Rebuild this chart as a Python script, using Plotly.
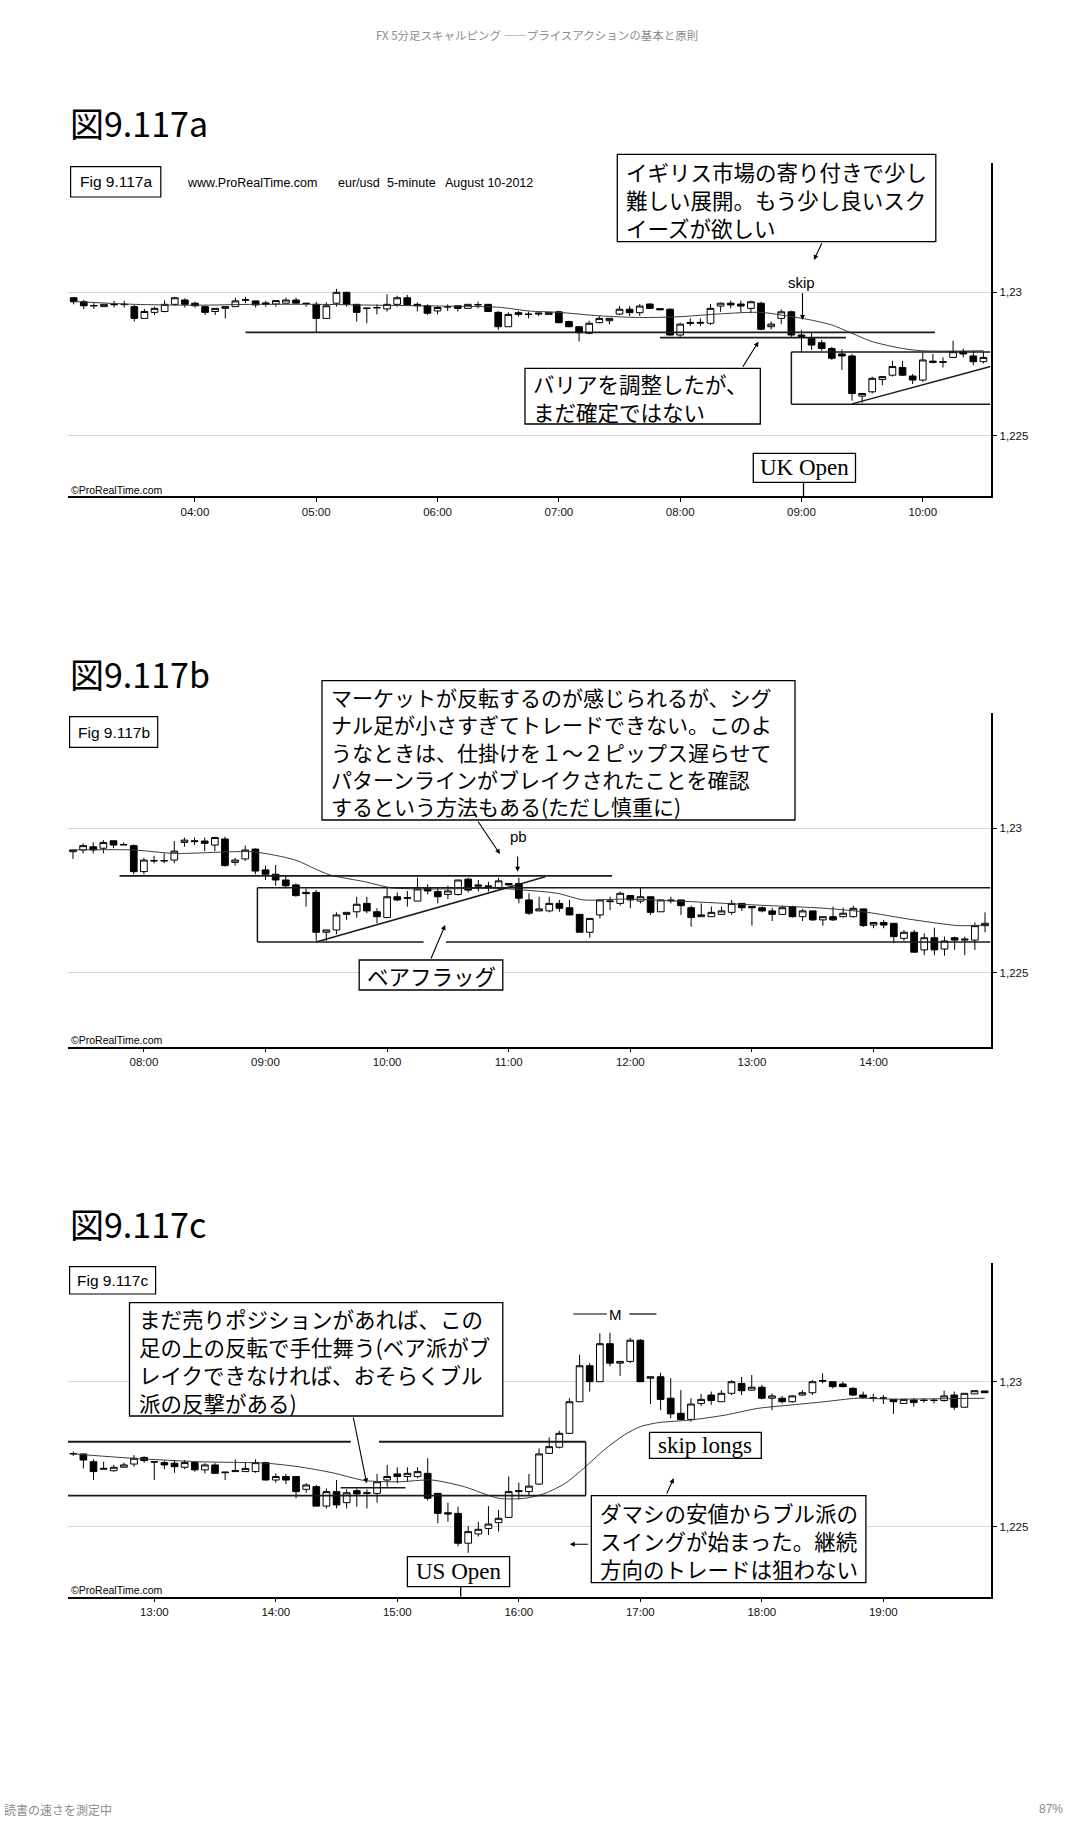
import plotly.graph_objects as go

# ---------------- data (EUR/USD 5-minute, August 10-2012) ----------------
# Panel a : 03:00 - 10:30
a_start = "03:00"
a_open = [1.22981,1.22967,1.22954,1.22950,1.22958,1.22957,1.22950,1.22909,1.22930,1.22933,
          1.22958,1.22973,1.22962,1.22950,1.22933,1.22944,1.22950,1.22974,1.22970,1.22963,
          1.22959,1.22962,1.22973,1.22962,1.22958,1.22909,1.22962,1.23000,1.22958,1.22945,
          1.22947,1.22942,1.22958,1.22981,1.22958,1.22953,1.22935,1.22950,1.22953,1.22944,
          1.22956,1.22958,1.22930,1.22880,1.22929,1.22924,1.22928,1.22923,1.22932,1.22898,
          1.22880,1.22857,1.22894,1.22901,1.22924,1.22941,1.22929,1.22959,1.22943,1.22941,
          1.22851,1.22895,1.22892,1.22892,1.22952,1.22962,1.22959,1.22944,1.22962,1.22880,
          1.22909,1.22932,1.22851,1.22839,1.22824,1.22804,1.22785,1.22778,1.22638,1.22653,
          1.22696,1.22711,1.22738,1.22708,1.22694,1.22760,1.22758,1.22773,1.22793,1.22778,
          1.22758]
a_high = [1.22984,1.22974,1.22962,1.22958,1.22970,1.22970,1.22956,1.22942,1.22950,1.22972,
          1.22984,1.22979,1.22967,1.22953,1.22944,1.22950,1.22981,1.22984,1.22970,1.22970,
          1.22971,1.22981,1.22981,1.22962,1.22967,1.22965,1.23012,1.23002,1.22958,1.22945,
          1.22958,1.22993,1.22988,1.22991,1.22965,1.22958,1.22953,1.22958,1.22953,1.22958,
          1.22967,1.22958,1.22935,1.22930,1.22935,1.22933,1.22929,1.22931,1.22936,1.22901,
          1.22882,1.22901,1.22917,1.22909,1.22952,1.22952,1.22959,1.22962,1.22944,1.22944,
          1.22894,1.22909,1.22909,1.22959,1.22964,1.22971,1.22971,1.22971,1.22967,1.22898,
          1.22941,1.22936,1.22868,1.22857,1.22834,1.22810,1.22801,1.22785,1.22647,1.22706,
          1.22708,1.22761,1.22761,1.22715,1.22789,1.22785,1.22773,1.22831,1.22804,1.22796,
          1.22793]
a_low = [1.22958,1.22942,1.22942,1.22950,1.22947,1.22947,1.22898,1.22909,1.22921,1.22930,
         1.22953,1.22947,1.22947,1.22921,1.22921,1.22909,1.22950,1.22962,1.22947,1.22950,
         1.22950,1.22962,1.22962,1.22950,1.22860,1.22909,1.22950,1.22950,1.22898,1.22892,
         1.22923,1.22933,1.22950,1.22953,1.22933,1.22921,1.22923,1.22935,1.22933,1.22944,
         1.22944,1.22933,1.22869,1.22880,1.22915,1.22909,1.22917,1.22923,1.22892,1.22878,
         1.22828,1.22854,1.22892,1.22889,1.22921,1.22917,1.22917,1.22941,1.22939,1.22848,
         1.22845,1.22882,1.22882,1.22886,1.22932,1.22944,1.22929,1.22927,1.22868,1.22871,
         1.22889,1.22845,1.22793,1.22799,1.22796,1.22764,1.22729,1.22622,1.22615,1.22647,
         1.22676,1.22706,1.22708,1.22680,1.22688,1.22752,1.22738,1.22770,1.22773,1.22746,
         1.22752]
a_close = [1.22967,1.22953,1.22953,1.22958,1.22957,1.22958,1.22909,1.22933,1.22944,1.22958,
           1.22981,1.22958,1.22953,1.22930,1.22944,1.22950,1.22970,1.22973,1.22956,1.22958,
           1.22971,1.22973,1.22962,1.22961,1.22909,1.22953,1.23000,1.22958,1.22930,1.22944,
           1.22946,1.22958,1.22981,1.22956,1.22953,1.22927,1.22947,1.22949,1.22944,1.22958,
           1.22957,1.22933,1.22880,1.22923,1.22923,1.22923,1.22925,1.22930,1.22894,1.22880,
           1.22859,1.22892,1.22909,1.22909,1.22941,1.22929,1.22952,1.22944,1.22939,1.22851,
           1.22889,1.22892,1.22895,1.22944,1.22962,1.22956,1.22952,1.22967,1.22871,1.22889,
           1.22932,1.22851,1.22845,1.22816,1.22804,1.22770,1.22778,1.22647,1.22647,1.22700,
           1.22706,1.22741,1.22711,1.22694,1.22764,1.22756,1.22756,1.22793,1.22785,1.22758,
           1.22773]
a_ma_time = ["03:00","03:30","04:00","04:30","05:00","05:30","06:00","06:30","06:45","07:00",
             "07:20","07:40","08:00","08:20","08:40","08:55","09:05","09:15","09:25","09:35",
             "09:50","10:00","10:30"]
a_ma = [1.22968,1.22958,1.22955,1.22958,1.22958,1.22955,1.22952,1.22948,1.22935,1.22930,
        1.22918,1.22912,1.22915,1.22925,1.22930,1.22915,1.22903,1.22886,1.22857,1.22828,
        1.22804,1.22796,1.22796]

# Panel b : 07:25 - 14:55
b_start = "07:25"
b_open = [1.22919,1.22925,1.22936,1.22931,1.22957,1.22942,1.22940,1.22850,1.22887,1.22887,
          1.22890,1.22951,1.22957,1.22956,1.22942,1.22963,1.22882,1.22894,1.22928,1.22856,
          1.22841,1.22821,1.22804,1.22778,1.22778,1.22640,1.22648,1.22702,1.22711,1.22740,
          1.22711,1.22691,1.22763,1.22760,1.22748,1.22794,1.22781,1.22771,1.22771,1.22824,
          1.22804,1.22798,1.22794,1.22809,1.22809,1.22752,1.22714,1.22714,1.22740,1.22725,
          1.22702,1.22640,1.22700,1.22746,1.22740,1.22767,1.22748,1.22763,1.22711,1.22752,
          1.22752,1.22725,1.22694,1.22694,1.22702,1.22709,1.22740,1.22729,1.22725,1.22714,
          1.22702,1.22729,1.22694,1.22714,1.22683,1.22694,1.22694,1.22694,1.22721,1.22665,
          1.22674,1.22671,1.22619,1.22640,1.22579,1.22621,1.22582,1.22621,1.22613,1.22613,
          1.22663]
b_high = [1.22925,1.22948,1.22951,1.22959,1.22957,1.22951,1.22944,1.22898,1.22905,1.22913,
          1.22956,1.22968,1.22968,1.22968,1.22971,1.22971,1.22898,1.22940,1.22931,1.22871,
          1.22873,1.22836,1.22809,1.22792,1.22786,1.22648,1.22709,1.22709,1.22763,1.22763,
          1.22723,1.22794,1.22778,1.22783,1.22829,1.22806,1.22794,1.22801,1.22821,1.22829,
          1.22821,1.22815,1.22829,1.22809,1.22829,1.22775,1.22763,1.22763,1.22752,1.22752,
          1.22702,1.22688,1.22752,1.22763,1.22781,1.22769,1.22794,1.22763,1.22752,1.22763,
          1.22752,1.22732,1.22740,1.22729,1.22729,1.22752,1.22740,1.22729,1.22729,1.22725,
          1.22732,1.22732,1.22721,1.22714,1.22694,1.22729,1.22725,1.22732,1.22721,1.22674,
          1.22683,1.22671,1.22648,1.22648,1.22636,1.22656,1.22625,1.22625,1.22625,1.22674,
          1.22709]
b_low = [1.22894,1.22913,1.22913,1.22913,1.22931,1.22942,1.22841,1.22841,1.22879,1.22879,
         1.22879,1.22936,1.22942,1.22921,1.22921,1.22867,1.22871,1.22887,1.22841,1.22821,
         1.22801,1.22792,1.22763,1.22729,1.22610,1.22610,1.22633,1.22683,1.22691,1.22706,
         1.22671,1.22688,1.22748,1.22729,1.22748,1.22771,1.22740,1.22755,1.22767,1.22778,
         1.22781,1.22781,1.22790,1.22801,1.22740,1.22700,1.22714,1.22709,1.22711,1.22700,
         1.22640,1.22621,1.22688,1.22717,1.22732,1.22723,1.22740,1.22700,1.22711,1.22740,
         1.22700,1.22659,1.22694,1.22694,1.22700,1.22700,1.22714,1.22663,1.22709,1.22679,
         1.22700,1.22691,1.22679,1.22679,1.22663,1.22679,1.22691,1.22691,1.22659,1.22654,
         1.22654,1.22602,1.22610,1.22571,1.22561,1.22561,1.22559,1.22579,1.22561,1.22579,
         1.22640]
b_close = [1.22925,1.22940,1.22925,1.22951,1.22942,1.22944,1.22850,1.22890,1.22888,1.22888,
           1.22921,1.22959,1.22954,1.22948,1.22968,1.22871,1.22890,1.22925,1.22852,1.22841,
           1.22821,1.22801,1.22767,1.22774,1.22640,1.22648,1.22700,1.22709,1.22737,1.22714,
           1.22694,1.22763,1.22752,1.22758,1.22790,1.22783,1.22763,1.22783,1.22821,1.22786,
           1.22800,1.22800,1.22818,1.22804,1.22758,1.22706,1.22721,1.22740,1.22723,1.22700,
           1.22640,1.22688,1.22752,1.22748,1.22775,1.22752,1.22763,1.22709,1.22752,1.22749,
           1.22732,1.22691,1.22700,1.22709,1.22714,1.22740,1.22725,1.22725,1.22714,1.22702,
           1.22725,1.22694,1.22714,1.22683,1.22694,1.22683,1.22706,1.22723,1.22663,1.22674,
           1.22665,1.22625,1.22640,1.22571,1.22621,1.22579,1.22610,1.22613,1.22616,1.22663,
           1.22671]
b_ma_time = ["07:25","07:55","08:15","08:53","09:08","09:16","09:24","09:32","09:49","10:02",
             "10:22","10:55","11:08","11:24","11:37","11:57","12:30","13:03","13:36","13:57",
             "14:17","14:42","14:55"]
b_ma = [1.22925,1.22925,1.22913,1.22919,1.22902,1.22887,1.22861,1.22838,1.22815,1.22794,
        1.22790,1.22792,1.22786,1.22775,1.22752,1.22755,1.22746,1.22734,1.22723,1.22709,
        1.22686,1.22663,1.22665]

# Panel c : 12:20 - 19:50
c_start = "12:20"
c_open = [1.22751,1.22751,1.22724,1.22698,1.22693,1.22705,1.22716,1.22739,1.22724,1.22721,
          1.22719,1.22705,1.22721,1.22696,1.22713,1.22686,1.22690,1.22690,1.22690,1.22721,
          1.22661,1.22673,1.22673,1.22629,1.22638,1.22571,1.22621,1.22583,1.22624,1.22615,
          1.22615,1.22661,1.22682,1.22673,1.22673,1.22684,1.22615,1.22548,1.22546,1.22443,
          1.22475,1.22494,1.22514,1.22532,1.22621,1.22621,1.22647,1.22753,1.22774,1.22822,
          1.22931,1.23055,1.23000,1.23131,1.23064,1.23070,1.23143,1.23012,1.23017,1.22943,
          1.22891,1.22870,1.22925,1.22954,1.22931,1.22960,1.22994,1.22971,1.22981,1.22943,
          1.22943,1.22931,1.22954,1.22962,1.23004,1.23000,1.22992,1.22977,1.22954,1.22943,
          1.22943,1.22939,1.22925,1.22937,1.22935,1.22935,1.22935,1.22954,1.22912,1.22958,
          1.22968]
c_high = [1.22759,1.22751,1.22732,1.22724,1.22713,1.22721,1.22747,1.22742,1.22724,1.22728,
          1.22730,1.22730,1.22724,1.22719,1.22719,1.22688,1.22732,1.22721,1.22732,1.22724,
          1.22684,1.22682,1.22673,1.22650,1.22644,1.22632,1.22661,1.22629,1.22632,1.22629,
          1.22682,1.22713,1.22705,1.22705,1.22705,1.22736,1.22615,1.22583,1.22569,1.22502,
          1.22517,1.22571,1.22558,1.22673,1.22652,1.22682,1.22770,1.22808,1.22831,1.22943,
          1.23093,1.23064,1.23167,1.23169,1.23070,1.23151,1.23147,1.23017,1.23031,1.23012,
          1.22971,1.22943,1.22958,1.22966,1.22971,1.23006,1.23017,1.23023,1.22989,1.22960,
          1.22951,1.22954,1.22971,1.23006,1.23029,1.23000,1.23000,1.22981,1.22966,1.22958,
          1.22954,1.22939,1.22939,1.22943,1.22943,1.22943,1.22969,1.22966,1.22960,1.22969,
          1.22968]
c_low = [1.22744,1.22701,1.22661,1.22698,1.22690,1.22705,1.22707,1.22721,1.22661,1.22698,
         1.22686,1.22698,1.22690,1.22684,1.22682,1.22661,1.22690,1.22690,1.22686,1.22659,
         1.22652,1.22647,1.22598,1.22617,1.22569,1.22563,1.22563,1.22563,1.22569,1.22563,
         1.22583,1.22638,1.22650,1.22655,1.22667,1.22590,1.22512,1.22517,1.22433,1.22410,
         1.22466,1.22471,1.22483,1.22532,1.22594,1.22609,1.22644,1.22751,1.22770,1.22820,
         1.22931,1.22966,1.23000,1.23053,1.23020,1.23064,1.23000,1.22923,1.22902,1.22874,
         1.22868,1.22862,1.22916,1.22920,1.22931,1.22954,1.22954,1.22969,1.22939,1.22902,
         1.22925,1.22928,1.22951,1.22954,1.22994,1.22977,1.22981,1.22951,1.22943,1.22931,
         1.22923,1.22889,1.22925,1.22914,1.22928,1.22925,1.22931,1.22902,1.22912,1.22958,
         1.22962]
c_close = [1.22752,1.22730,1.22690,1.22701,1.22705,1.22713,1.22736,1.22728,1.22723,1.22713,
           1.22707,1.22721,1.22696,1.22713,1.22684,1.22688,1.22693,1.22701,1.22721,1.22661,
           1.22673,1.22661,1.22621,1.22644,1.22571,1.22621,1.22575,1.22617,1.22613,1.22617,
           1.22655,1.22673,1.22673,1.22684,1.22690,1.22598,1.22546,1.22544,1.22443,1.22483,
           1.22491,1.22509,1.22529,1.22621,1.22624,1.22640,1.22751,1.22776,1.22822,1.22931,
           1.23055,1.23000,1.23131,1.23064,1.23070,1.23143,1.23000,1.23017,1.22939,1.22889,
           1.22870,1.22923,1.22939,1.22935,1.22960,1.23000,1.22969,1.22981,1.22943,1.22951,
           1.22931,1.22951,1.22962,1.23000,1.23002,1.22983,1.22983,1.22954,1.22946,1.22944,
           1.22944,1.22931,1.22939,1.22928,1.22936,1.22936,1.22951,1.22912,1.22960,1.22969,
           1.22962]
c_ma_time = ["12:20","12:49","13:22","13:55","14:11","14:28","14:44","15:01","15:17","15:33",
             "15:50","16:03","16:13","16:23","16:32","16:42","16:52","17:00","17:09","17:25",
             "17:42","17:58","18:15","18:31","18:47","19:04","19:50"]
c_ma = [1.22751,1.22736,1.22724,1.22719,1.22707,1.22686,1.22659,1.22655,1.22661,1.22638,
        1.22598,1.22598,1.22615,1.22650,1.22701,1.22764,1.22816,1.22845,1.22859,1.22868,
        1.22885,1.22908,1.22920,1.22931,1.22943,1.22940,1.22943]

# drawn price levels / lines (time, price)
a_levels = [("04:25", "10:06", 1.22860), ("07:50", "09:22", 1.22842)]
a_box = ("08:55", 1.22610, 1.22792)
a_trend = [("09:25", 1.22611), ("10:33", 1.22741)]
b_levels = [("07:48", "11:51", 1.22835)]
b_box = ("08:56", 1.22606, 1.22794)
b_gap = ("10:18", "10:29")
b_trend = [("09:25", 1.22606), ("11:18", 1.22832)]
c_upper = [("12:16", "14:37"), ("14:51", "16:33")]
c_upper_price = 1.22793
c_lower = ("12:16", "16:33", 1.22607)
c_short = ("14:32", "15:04", 1.22634)

y_ticks = [1.225, 1.23]
y_ticklabels = ["1,225", "1,23"]
a_hours = ["04:00", "05:00", "06:00", "07:00", "08:00", "09:00", "10:00"]
b_hours = ["08:00", "09:00", "10:00", "11:00", "12:00", "13:00", "14:00"]
c_hours = ["13:00", "14:00", "15:00", "16:00", "17:00", "18:00", "19:00"]

# ---------------- helpers ----------------
W, H = 1073, 1833


def tm(s):
    h, m = s.split(":")
    return int(h) * 60 + int(m)


def px(x):
    return x / W


def py(y):
    return 1 - y / H


SANS = "Liberation Sans, Arial, sans-serif"
SERIF = "Liberation Serif, Times New Roman, serif"
JP = "Noto Sans CJK JP, sans-serif"

fig = go.Figure()

panels = [
    dict(n="", start=a_start, o=a_open, h=a_high, l=a_low, c=a_close, mt=a_ma_time, mv=a_ma,
         hours=a_hours, xr=[177.2, 633.5], yr=[1.222897, 1.234498], top=163.3, bot=496.0),
    dict(n="2", start=b_start, o=b_open, h=b_high, l=b_low, c=b_close, mt=b_ma_time, mv=b_ma,
         hours=b_hours, xr=[442.55, 897.7], yr=[1.222438, 1.233982], top=713.3, bot=1046.7),
    dict(n="3", start=c_start, o=c_open, h=c_high, l=c_low, c=c_close, mt=c_ma_time, mv=c_ma,
         hours=c_hours, xr=[737.4, 1192.9], yr=[1.222586, 1.234083], top=1263.3, bot=1596.7),
]

X0, X1 = 68.0, 990.5
layout_axes = {}
for p in panels:
    xs = [tm(p["start"]) + 5 * i for i in range(len(p["o"]))]
    xa, ya = "x" + p["n"], "y" + p["n"]
    fig.add_trace(go.Scatter(x=[tm(t) for t in p["mt"]], y=p["mv"], mode="lines",
                             line=dict(color="#3a3a3a", width=1, shape="spline", smoothing=0.7),
                             xaxis=xa, yaxis=ya, hoverinfo="skip"))
    fig.add_trace(go.Candlestick(
        x=xs, open=p["o"], high=p["h"], low=p["l"], close=p["c"], xaxis=xa, yaxis=ya,
        increasing=dict(fillcolor="white", line=dict(color="black", width=1)),
        decreasing=dict(fillcolor="black", line=dict(color="black", width=1)),
        whiskerwidth=0))
    xkey = "xaxis" + p["n"]
    ykey = "yaxis" + p["n"]
    layout_axes[xkey] = dict(
        domain=[px(X0), px(X1)], range=p["xr"], anchor=ya, showline=True, linecolor="black",
        linewidth=1.5, ticks="outside", ticklen=4, tickcolor="black", showgrid=False,
        zeroline=False, tickvals=[tm(t) for t in p["hours"]], ticktext=p["hours"],
        tickfont=dict(family=SANS, size=11.5, color="#111"), rangeslider=dict(visible=False),
        fixedrange=True)
    layout_axes[ykey] = dict(
        domain=[py(p["bot"]), py(p["top"])], range=p["yr"], anchor=xa, side="right",
        showline=True, linecolor="black", linewidth=1.5, ticks="outside", ticklen=5,
        tickcolor="black", tickvals=y_ticks, ticktext=y_ticklabels, showgrid=True,
        gridcolor="#d9d9d9", gridwidth=1, zeroline=False,
        tickfont=dict(family=SANS, size=11.5, color="#111"), fixedrange=True)

shapes = []
annotations = []


def dline(xa, ya, x0, y0, x1, y1, w=1.8):
    shapes.append(dict(type="line", xref=xa, yref=ya, x0=x0, y0=y0, x1=x1, y1=y1,
                       line=dict(color="#1a1a1a", width=w), layer="above"))


# panel a lines
for t0, t1, pr in a_levels:
    dline("x", "y", tm(t0), pr, tm(t1), pr)
ax_right = panels[0]["xr"][1]
dline("x", "y", tm(a_box[0]), a_box[2], ax_right, a_box[2], 1.5)
dline("x", "y", tm(a_box[0]), a_box[1], ax_right, a_box[1], 1.5)
dline("x", "y", tm(a_box[0]), a_box[1], tm(a_box[0]), a_box[2], 1.5)
dline("x", "y", tm(a_trend[0][0]), a_trend[0][1], ax_right, a_trend[1][1], 1.5)

# panel b lines
for t0, t1, pr in b_levels:
    dline("x2", "y2", tm(t0), pr, tm(t1), pr)
bx_right = panels[1]["xr"][1]
dline("x2", "y2", tm(b_box[0]), b_box[2], bx_right, b_box[2], 1.5)
dline("x2", "y2", tm(b_box[0]), b_box[1], tm(b_gap[0]), b_box[1], 1.5)
dline("x2", "y2", tm(b_gap[1]), b_box[1], bx_right, b_box[1], 1.5)
dline("x2", "y2", tm(b_box[0]), b_box[1], tm(b_box[0]), b_box[2], 1.5)
dline("x2", "y2", tm(b_trend[0][0]), b_trend[0][1], tm(b_trend[1][0]), b_trend[1][1], 1.5)

# panel c lines
for t0, t1 in c_upper:
    dline("x3", "y3", max(tm(t0), panels[2]["xr"][0]), c_upper_price, tm(t1), c_upper_price)
dline("x3", "y3", max(tm(c_lower[0]), panels[2]["xr"][0]), c_lower[2], tm(c_lower[1]), c_lower[2])
dline("x3", "y3", tm(c_lower[1]), c_lower[2], tm(c_lower[1]), c_upper_price, 1.5)
dline("x3", "y3", tm(c_short[0]), c_short[2], tm(c_short[1]), c_short[2], 1.5)


def pline(x0, y0, x1, y1, w=1.3):
    shapes.append(dict(type="line", xref="paper", yref="paper", x0=px(x0), y0=py(y0),
                       x1=px(x1), y1=py(y1), line=dict(color="black", width=w), layer="above"))


def prect(x0, y0, x1, y1, w=1.3):
    shapes.append(dict(type="rect", xref="paper", yref="paper", x0=px(x0), y0=py(y0),
                       x1=px(x1), y1=py(y1), line=dict(color="black", width=w),
                       fillcolor="white", layer="above"))


def text(s, x, y, size, family, xanchor="left", color="black"):
    annotations.append(dict(text=s, x=px(x), y=py(y), xref="paper", yref="paper",
                            xanchor=xanchor, yanchor="middle", showarrow=False, align="left",
                            font=dict(family=family, size=size, color=color)))


def arrow(xt, yt, xh, yh):
    annotations.append(dict(text="", x=px(xh), y=py(yh), xref="paper", yref="paper",
                            ax=xt - xh, ay=yt - yh, axref="pixel", ayref="pixel",
                            showarrow=True, arrowhead=2, arrowsize=0.9, arrowwidth=1.1,
                            arrowcolor="black", standoff=0))


def jbox(x0, y0, x1, y1, lines, tx, size=21.5):
    prect(x0, y0, x1, y1)
    text("<br>".join(lines), tx, (y0 + y1) / 2 + 1, size, JP)


# page header / footer
text("FX 5分足スキャルピング ――プライスアクションの基本と原則", 537, 35, 11.5, JP, "center", "#8c8c8c")
text("読書の速さを測定中", 2, 1809, 12, JP, "left", "#8c8c8c")
text("87%", 1051, 1809, 12, SANS, "center", "#8c8c8c")

# titles
for t, y in [("図9.117a", 122.5), ("図9.117b", 673.3), ("図9.117c", 1223.3)]:
    text(t, 68, y, 34, JP)

# Fig boxes
for t, (x0, y0, x1, y1) in [("Fig 9.117a", (70.6, 166.7, 160.8, 197.0)),
                            ("Fig 9.117b", (69.6, 716.7, 157.7, 747.3)),
                            ("Fig 9.117c", (69.6, 1266.7, 155.6, 1294.0))]:
    prect(x0, y0, x1, y1, 1.2)
    text(t, (x0 + x1) / 2, (y0 + y1) / 2, 15.5, SANS, "center")

# header line of panel a
text("www.ProRealTime.com", 185, 183.3, 12.5, SANS)
text("eur/usd", 336.4, 183.3, 12.5, SANS)
text("5-minute", 385, 183.3, 12.5, SANS)
text("August 10-2012", 442.5, 183.3, 12.5, SANS)

# copyright
for y in (490, 1040, 1590):
    text("©ProRealTime.com", 68.5, y, 10.5, SANS)

# ---- panel a notes ----
jbox(617.3, 154.3, 935.8, 241.7,
     ["イギリス市場の寄り付きで少し", "難しい展開。もう少し良いスク", "イーズが欲しい"], 624)
arrow(822.6, 241.7, 813.9, 260)
text("skip", 801, 282.7, 15, SANS, "center")
arrow(802.5, 291.7, 802.5, 320)
jbox(525, 368.3, 760.3, 424, ["バリアを調整したが、", "まだ確定ではない"], 531)
arrow(741.9, 368.3, 758.5, 341.7)
prect(753.3, 453.3, 855.5, 482.3)
text("UK Open", 804.4, 468, 23, SERIF, "center")
pline(803.5, 482.3, 803.5, 496)

# ---- panel b notes ----
jbox(322, 680.7, 795, 820,
     ["マーケットが反転するのが感じられるが、シグ", "ナル足が小さすぎてトレードできない。このよ",
      "うなときは、仕掛けを１～２ピップス遅らせて", "パターンラインがブレイクされたことを確認",
      "するという方法もある(ただし慎重に)"], 329, 21)
arrow(477, 820, 500, 854)
text("pb", 518.2, 836, 15, SANS, "center")
arrow(517.6, 855, 517.6, 871.7)
prect(359.2, 960, 502.8, 990)
text("ベアフラッグ", 431, 975, 21.5, JP, "center")
arrow(430.4, 960, 445.2, 925)

# ---- panel c notes ----
jbox(129.5, 1302.7, 502.8, 1416,
     ["まだ売りポジションがあれば、この", "足の上の反転で手仕舞う(ベア派がブ",
      "レイクできなければ、おそらくブル", "派の反撃がある)"], 137)
arrow(353, 1416, 366.7, 1483.3)
prect(407.4, 1556.7, 509.6, 1586.7)
text("US Open", 458.5, 1571.7, 23, SERIF, "center")
pline(460.7, 1586.7, 460.7, 1596.7)
text("M", 615.9, 1314, 15, SANS, "center")
pline(573.3, 1314, 606.9, 1314, 1.2)
pline(629.4, 1314, 656.4, 1314, 1.2)
prect(649.5, 1432.3, 761.3, 1458.3)
text("skip longs", 705.4, 1445.3, 23, SERIF, "center")
jbox(591.3, 1495.7, 865.9, 1582.7,
     ["ダマシの安値からブル派の", "スイングが始まった。継続", "方向のトレードは狙わない"], 597.5)
arrow(666.1, 1495, 673.7, 1478.3)
arrow(589.6, 1544.3, 569.8, 1544.3)

fig.update_layout(
    width=W, height=H, margin=dict(l=0, r=0, t=0, b=0),
    paper_bgcolor="white", plot_bgcolor="white", showlegend=False,
    boxgap=0.34, boxgroupgap=0, boxmode="overlay",
    shapes=shapes, annotations=annotations, **layout_axes)

fig.write_html("out.html", config={"displayModeBar": False})
